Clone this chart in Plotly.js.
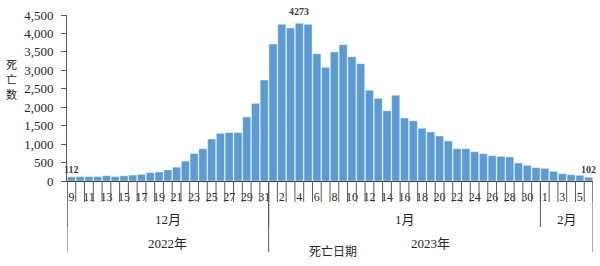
<!DOCTYPE html>
<html><head><meta charset="utf-8">
<script src="https://cdn.plot.ly/plotly-3.0.1.min.js"></script>
<style>html,body{margin:0;padding:0;background:#fff}</style>
</head><body><div id="chart" style="width:600px;height:266px"></div>
<script>
// Categories: death dates
const dates = [
  "2022-12-09","2022-12-10","2022-12-11","2022-12-12","2022-12-13","2022-12-14","2022-12-15","2022-12-16",
  "2022-12-17","2022-12-18","2022-12-19","2022-12-20","2022-12-21","2022-12-22","2022-12-23","2022-12-24",
  "2022-12-25","2022-12-26","2022-12-27","2022-12-28","2022-12-29","2022-12-30","2022-12-31",
  "2023-01-01","2023-01-02","2023-01-03","2023-01-04","2023-01-05","2023-01-06","2023-01-07","2023-01-08",
  "2023-01-09","2023-01-10","2023-01-11","2023-01-12","2023-01-13","2023-01-14","2023-01-15","2023-01-16",
  "2023-01-17","2023-01-18","2023-01-19","2023-01-20","2023-01-21","2023-01-22","2023-01-23","2023-01-24",
  "2023-01-25","2023-01-26","2023-01-27","2023-01-28","2023-01-29","2023-01-30","2023-01-31",
  "2023-02-01","2023-02-02","2023-02-03","2023-02-04","2023-02-05","2023-02-06"
];
// Series values: daily deaths
const deaths = [
  112,118,120,118,143,120,140,160,
  180,225,245,300,375,540,745,876,
  1138,1292,1310,1310,1734,2105,2737,
  3713,4246,4146,4273,4246,3450,3081,3496,
  3694,3369,3180,2458,2241,1905,2322,1707,
  1634,1428,1328,1220,1084,876,876,795,
  740,686,668,650,488,425,361,
  343,262,199,171,154,102
];
// Tick labels (day of month, shown every other day)
const dayLabels = [
  "9","","11","","13","","15","","17","","19","","21","","23","","25","","27","","29","","31",
  "","2","","4","","6","","8","","10","","12","","14","","16","","18","","20","","22","","24","","26","","28","","30","",
  "1","","3","","5",""
];
const monthNames = {"12":"12月","01":"1月","02":"2月"};
const yearNames = {"2022":"2022年","2023":"2023年"};
const yTitleChars = ["死","亡","数"];
const xTitle = "死亡日期";

const N = dates.length;
const plotH = 166;
const px = p => -p / plotH; // pixels below axis -> paper y

const tickIdx = [], tickTxt = [];
dayLabels.forEach((t, i) => { if (t !== "") { tickIdx.push(dates[i]); tickTxt.push(t); } });

function groups(keyFn) {
  const g = [];
  dates.forEach((d, i) => {
    const k = keyFn(d);
    if (!g.length || g[g.length - 1].key !== k) g.push({key: k, start: i, end: i});
    else g[g.length - 1].end = i;
  });
  return g;
}
const mGroups = groups(d => d.slice(5, 7));
const yGroups = groups(d => d.slice(0, 4));

const lineCol = "#595959";
const shapes = [];
for (let i = 0; i <= N; i++) {
  shapes.push({type: "line", xref: "x", yref: "paper", x0: i - 0.5, x1: i - 0.5, y0: 0, y1: px(21),
    line: {color: lineCol, width: 1}});
}
mGroups.forEach(g => {
  shapes.push({type: "line", xref: "x", yref: "paper", x0: g.start - 0.5, x1: g.start - 0.5, y0: 0, y1: px(46),
    line: {color: lineCol, width: 1}});
});
yGroups.forEach(g => {
  shapes.push({type: "line", xref: "x", yref: "paper", x0: g.start - 0.5, x1: g.start - 0.5, y0: 0, y1: px(71),
    line: {color: lineCol, width: 1}});
});
shapes.push({type: "line", xref: "x", yref: "paper", x0: N - 0.5, x1: N - 0.5, y0: 0, y1: px(71),
  line: {color: lineCol, width: 1}});

const serif = "Liberation Serif, Noto Sans CJK SC, serif";
const annotations = [];
mGroups.forEach(g => annotations.push({xref: "x", yref: "paper", x: (g.start + g.end) / 2, y: px(38),
  text: monthNames[g.key], showarrow: false, xanchor: "center", yanchor: "middle",
  font: {family: serif, size: 13, color: "#262626"}}));
yGroups.forEach(g => annotations.push({xref: "x", yref: "paper", x: (g.start + g.end) / 2, y: px(62),
  text: yearNames[g.key], showarrow: false, xanchor: "center", yanchor: "middle",
  font: {family: serif, size: 13, color: "#262626"}}));

// value labels: first, max, last
const maxI = deaths.indexOf(Math.max(...deaths));
[0, maxI, N - 1].forEach(i => annotations.push({xref: "x", yref: "y", x: dates[i], y: deaths[i],
  text: "<b>" + deaths[i] + "</b>", showarrow: false, xanchor: "center", yanchor: "bottom",
  yshift: i === maxI ? 4 : 0,
  font: {family: serif, size: 10, color: "#404040"}}));

// stacked y title (one character per annotation)
yTitleChars.forEach((c, k) => annotations.push({xref: "paper", yref: "paper", x: -0.1046,
  y: 0.705 - k * 0.0904, text: c, showarrow: false, xanchor: "center", yanchor: "middle", borderpad: 0,
  font: {family: "Noto Sans CJK SC, sans-serif", size: 11, color: "#262626"}}));

annotations.push({xref: "paper", yref: "paper", x: 0.506, y: px(69), text: xTitle, showarrow: false,
  xanchor: "center", yanchor: "middle",
  font: {family: "Noto Sans CJK SC, sans-serif", size: 12, color: "#262626"}});

const trace = {
  type: "bar", x: dates, y: deaths,
  marker: {color: "#5B9BD5", line: {color: "#ffffff", width: 0.4}},
  hoverinfo: "x+y"
};

const layout = {
  width: 600, height: 266,
  margin: {l: 67, r: 7, t: 15, b: 85},
  paper_bgcolor: "#fff", plot_bgcolor: "#fff",
  bargap: 0.08,
  showlegend: false,
  xaxis: {
    type: "category", range: [-0.5, N - 0.5],
    tickmode: "array", tickvals: tickIdx, ticktext: tickTxt, ticks: "",
    ticklabelstandoff: 5,
    tickfont: {family: serif, size: 12, color: "#262626"}, tickangle: 0,
    showline: true, linecolor: "#404040", linewidth: 1,
    showgrid: false, zeroline: false
  },
  yaxis: {
    range: [0, 4500], dtick: 500, tickformat: ",d",
    ticks: "outside", ticklen: 5, tickcolor: lineCol,
    ticklabelstandoff: 5,
    tickfont: {family: serif, size: 13, color: "#262626"},
    showline: true, linecolor: lineCol, linewidth: 1,
    showgrid: false, zeroline: false
  },
  shapes: shapes,
  annotations: annotations
};

Plotly.newPlot("chart", [trace], layout, {displayModeBar: false, staticPlot: true});
</script></body></html>
